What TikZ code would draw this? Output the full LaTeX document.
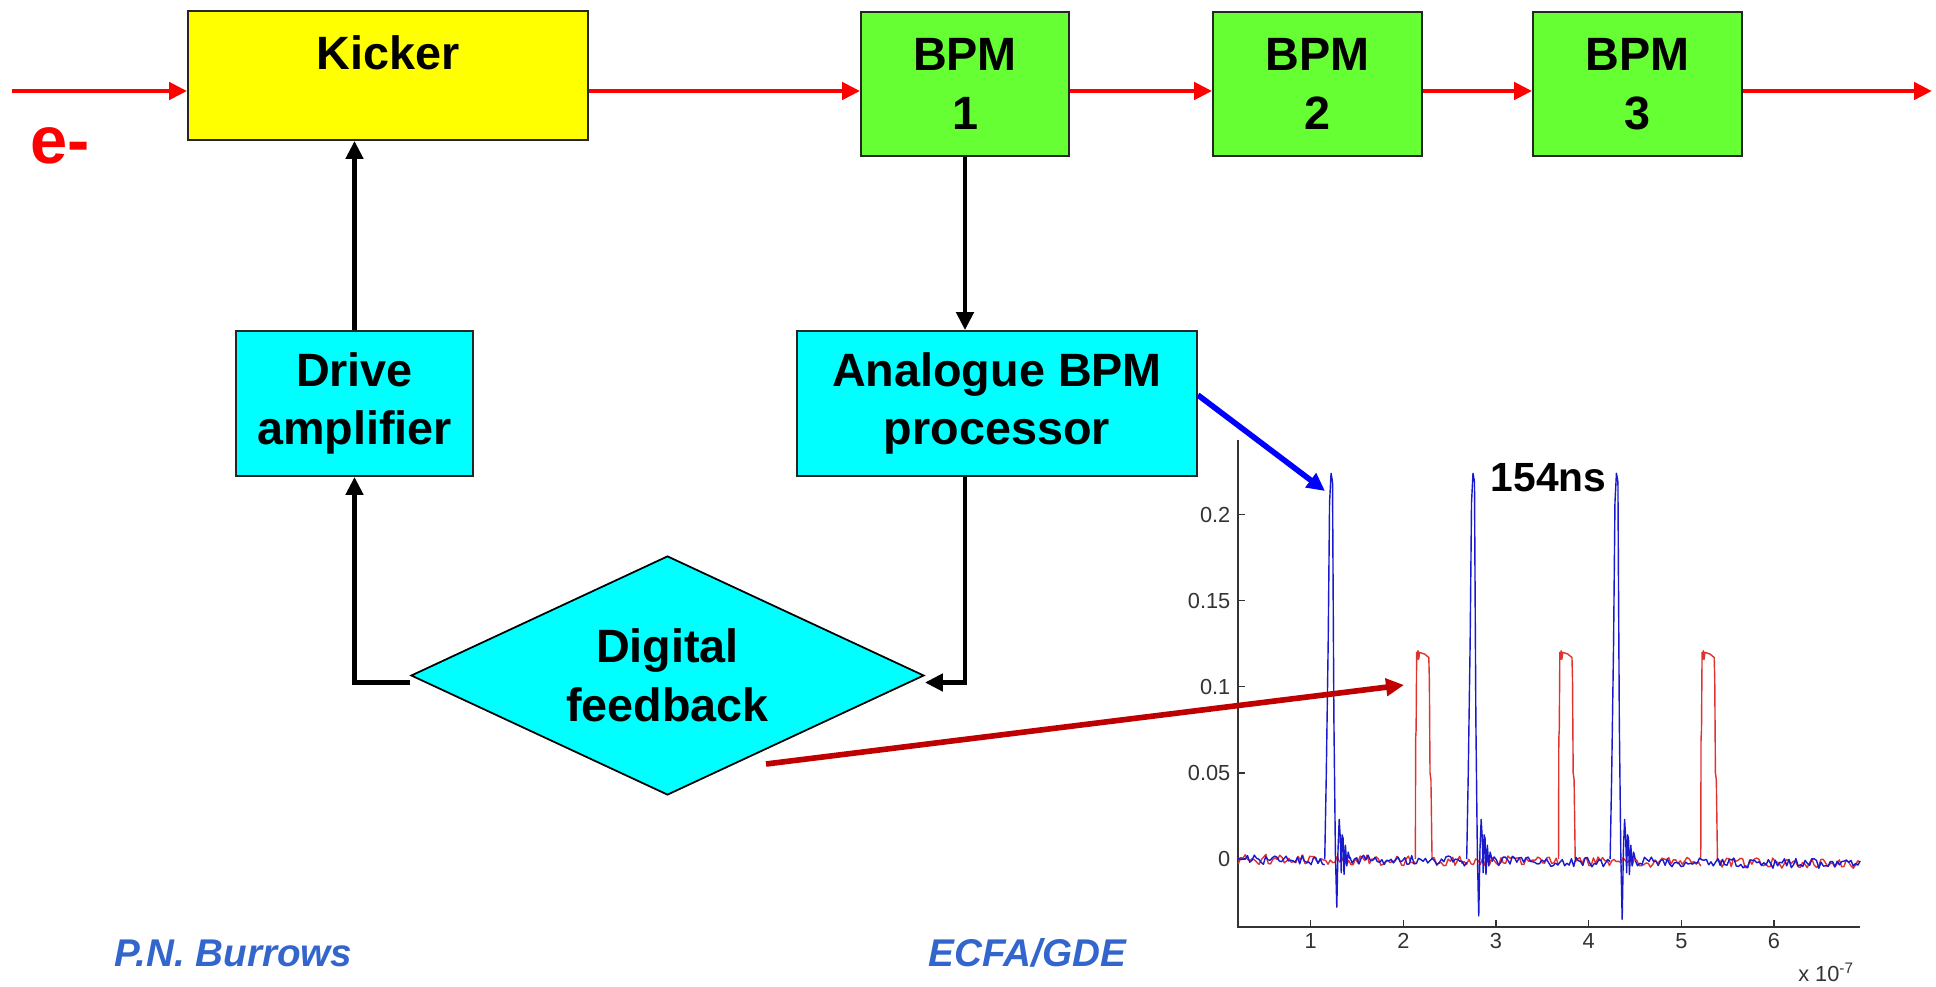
\documentclass[tikz,border=0pt]{standalone}
\usepackage{fontspec}
\setmainfont{Liberation Sans}
\usetikzlibrary{arrows.meta,positioning,calc,shapes.geometric}
\definecolor{BEAM-RED}{RGB}{255, 0, 0}
\definecolor{KICK-YELLOW}{RGB}{255, 255, 0}
\definecolor{BPM-GREEN}{RGB}{102, 255, 51}
\definecolor{PROC-CYAN}{RGB}{0, 255, 255}
\definecolor{PTR-BLUE}{RGB}{0, 0, 255}
\definecolor{PTR-RED}{RGB}{192, 0, 0}
\definecolor{TRACE-BLUE}{RGB}{25, 25, 205}
\definecolor{TRACE-RED}{RGB}{225, 50, 50}
\definecolor{FOOT-BLUE}{RGB}{51, 102, 204}

\tikzset{
  box/.style={draw=black!85, line width=0.5pt, align=center, inner sep=0pt,
    font=\bfseries\fontsize{13.3}{16.7}\selectfont},
  beam/.style={BEAM-RED, line width=1.4pt, -{Triangle[length=1.8mm,width=1.7mm]}},
  wire/.style={black, line width=1.4pt, -{Triangle[length=1.8mm,width=1.7mm]}},
  pointer/.style={line width=1.6pt, -{Triangle[length=1.8mm,width=1.7mm]}},
  axline/.style={black!80, line width=0.4pt},
  axtick/.style={black!80, line width=0.4pt},
  ticklbl/.style={black!80, inner sep=0pt, font=\fontsize{6.2}{7}\selectfont},
  sigtrace/.style={line width=0.4pt, line join=round},
}

\begin{document}
\begin{tikzpicture}
  \useasboundingbox (0,0) rectangle (19.36,9.86);

  % Beamline elements
  \node[box, fill=KICK-YELLOW, minimum width=4cm, text height=5.8mm, text depth=7.1mm] (kick) at (3.88,9.105) {Kicker};
  \node[box, fill=BPM-GREEN, minimum width=2.08cm, minimum height=1.44cm] (bpm1) at (9.65,9.02) {BPM\\1};
  \node[box, fill=BPM-GREEN, minimum width=2.09cm, minimum height=1.44cm] (bpm2) at (13.175,9.02) {BPM\\2};
  \node[box, fill=BPM-GREEN, minimum width=2.09cm, minimum height=1.44cm] (bpm3) at (16.375,9.02) {BPM\\3};

  % Electron beam
  \coordinate (beamin) at (0.12,8.95);
  \coordinate (beamout) at (19.32,8.95);
  \draw[beam] (beamin) -- (beamin -| kick.west);
  \draw[beam] (kick.east |- beamin) -- (bpm1.west |- beamin);
  \draw[beam] (bpm1.east |- beamin) -- (bpm2.west |- beamin);
  \draw[beam] (bpm2.east |- beamin) -- (bpm3.west |- beamin);
  \draw[beam] (bpm3.east |- beamin) -- (beamout);
  \node[BEAM-RED, font=\bfseries\fontsize{19}{19}\selectfont] (eminus) at (0.60,8.405) {e-};

  % Feedback electronics
  \node[box, fill=PROC-CYAN, minimum width=2.37cm, minimum height=1.45cm] (drv) at (3.545,5.825) {Drive\\amplifier};
  \node[box, fill=PROC-CYAN, minimum width=4cm, minimum height=1.45cm] (ana) at (9.97,5.825) {Analogue BPM\\processor};
  \node[box, diamond, fill=PROC-CYAN, draw=black, shape aspect=2.15,
    minimum width=5.13cm, minimum height=2.39cm] (dfb) at (6.675,3.105) {Digital\\feedback};

  % Loop connections
  \draw[wire] (drv.north) -- (drv.north |- kick.south);
  \draw[wire] (bpm1.south) -- (bpm1.south |- ana.north);
  \draw[wire] (bpm1.south |- ana.south) |- ([yshift=-0.7mm]dfb.east);
  \draw[wire] ([yshift=-0.7mm]dfb.west) -| (drv.south);

  % Scope trace
  \begin{scope}[shift={(12.18,1.27)}, x=0.9266cm, y=17.22cm]
    \draw[axline] (0.216,0.2433) -- (0.216,-0.0395) -- (6.93,-0.0395);
    \foreach \v [count=\i] in {0,0.05,0.1,0.15,0.2} {
      \draw[axtick] (0.216,\v) -- ++(0.07cm,0);
      \node[ticklbl, anchor=east] (ylab\i) at ([xshift=-0.07cm]0.216,\v) {\v};
    }
    \foreach \u in {1,...,6} {
      \draw[axtick] (\u,-0.0395) -- ++(0,0.07cm);
      \node[ticklbl, anchor=north] (xlab\u) at ([yshift=-0.06cm]\u,-0.0395) {\u};
    }
    \node[ticklbl, anchor=base east] (xexp) at (6.88,-0.0714) {x 10\textsuperscript{-7}};

    \pgfmathsetseed{4711}
    % red: kicker drive pulses
    \foreach \a/\b in {0.22/2.13, 2.31/3.675, 3.855/5.21, 5.39/6.93} {
      \pgfmathtruncatemacro\n{(\b-\a)/0.025+2}
      \draw[sigtrace, TRACE-RED] plot[domain=\a:\b, samples=\n] (\x,{0.003*rand-0.0004*\x});
    }
    \foreach \s in {2.13,3.675,5.21}
      \draw[sigtrace, TRACE-RED, shift={(\s,0)}] (0,0) -- (0.003,0.07) -- (0.008,0.075)
        -- (0.014,0.12) -- (0.022,0.116) -- (0.028,0.121) -- (0.036,0.116) -- (0.045,0.12)
        -- (0.1,0.119) -- (0.145,0.117) -- (0.151,0.104) -- (0.158,0.05) -- (0.168,0.046)
        -- (0.18,0);

    % blue: BPM processor output
    \foreach \a/\b in {0.22/1.152, 1.423/2.684, 2.955/4.232, 4.503/6.93} {
      \pgfmathtruncatemacro\n{(\b-\a)/0.025+2}
      \draw[sigtrace, TRACE-BLUE] plot[domain=\a:\b, samples=\n] (\x,{0.003*rand-0.0004*\x});
    }
    \foreach \c/\m in {1.22/-0.028, 2.752/-0.033, 4.30/-0.035}
      \draw[sigtrace, TRACE-BLUE, shift={(\c,0)}] (-0.068,0) -- (-0.052,0.047)
        -- (-0.031,0.125) -- (-0.016,0.207) -- (0,0.224) -- (0.016,0.219) -- (0.021,0.17)
        -- (0.031,0.08) -- (0.047,0.003) -- (0.062,\m) -- (0.075,0.005) -- (0.088,0.023)
        -- (0.1,0.012) -- (0.11,-0.008) -- (0.12,0.014) -- (0.13,0.012) -- (0.14,-0.009)
        -- (0.155,0.008) -- (0.17,-0.004) -- (0.185,0.004) -- (0.203,0);
  \end{scope}
  \node[font=\bfseries\fontsize{11.6}{13}\selectfont, anchor=base] (period) at (15.485,4.943) {154ns};

  % Pointers into the trace
  \coordinate (bluetip) at (13.25,4.95);
  \coordinate (fbtail) at (7.66,2.22);
  \coordinate (redtip) at (14.04,3.01);
  \draw[pointer, PTR-BLUE] ([yshift=0.85mm]ana.east) -- (bluetip);
  \draw[pointer, PTR-RED] (fbtail) -- (redtip);

  % Footer
  \node[FOOT-BLUE, font=\bfseries\itshape\fontsize{11}{13}\selectfont, anchor=base west, inner sep=0pt] (author) at (1.14,0.20) {P.N. Burrows};
  \node[FOOT-BLUE, font=\bfseries\itshape\fontsize{11}{13}\selectfont, anchor=base west, inner sep=0pt] (meeting) at (9.28,0.20) {ECFA/GDE};
\end{tikzpicture}
\end{document}
